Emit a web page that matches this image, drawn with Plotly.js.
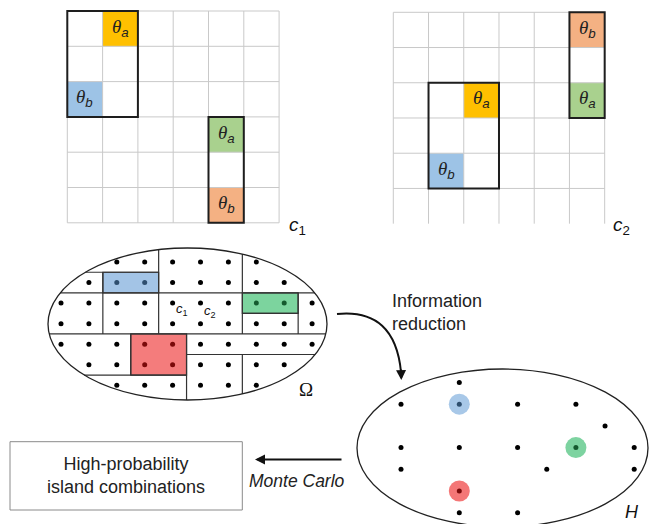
<!DOCTYPE html>
<html><head><meta charset="utf-8">
<script src="https://cdn.plot.ly/plotly-3.0.1.min.js"></script>
<style>html,body{margin:0;padding:0;background:#fff}</style>
</head><body><div id="chart" style="width:652px;height:524px"></div>
<script>
// ================= DATA =================
// Configuration c1 grid: highlighted cells (col,row) and their labels
const c1CellCols = [1, 0, 4, 4];
const c1CellRows = [0, 2, 3, 5];
const c1CellSubs = ['a', 'b', 'a', 'b'];
const c1CellKinds = ['orange', 'blue', 'green', 'salmon'];
// islands in c1 (col0,col1,row0,row1 in cell edges)
const c1IslandCol0 = [0, 4], c1IslandCol1 = [2, 5];
const c1IslandRow0 = [0, 3], c1IslandRow1 = [3, 6];

// Configuration c2 grid
const c2CellCols = [5, 5, 2, 1];
const c2CellRows = [0, 2, 2, 4];
const c2CellSubs = ['b', 'a', 'a', 'b'];
const c2CellKinds = ['salmon', 'green', 'orange', 'blue'];
const c2IslandCol0 = [5, 1], c2IslandCol1 = [6, 3];
const c2IslandRow0 = [0, 2], c2IslandRow1 = [3, 5];

// Omega: lattice of configurations (first/last column per row)
const omegaRowFirst = [2, 1, 0, 0, 0, 1, 2];
const omegaRowLast  = [7, 8, 9, 9, 9, 8, 7];
// partition lines (lattice units, null = ellipse edge)
const omegaHr  = [0.5, 1.5, 2.5, 3.5, 4.5, 5.5];
const omegaHc0 = [null, null, 6.5, null, 4.5, null];
const omegaHc1 = [3.5, null, 8.5, null, null, 4.5];
const omegaVc  = [1.5, 3.5, 6.5, 8.5, 2.5, 4.5, 6.5];
const omegaVr0 = [0.5, null, null, 1.5, 3.5, 3.5, 4.5];
const omegaVr1 = [3.5, 3.5, 3.5, 3.5, 5.5, null, null];
// highlighted islands in Omega
const omegaIslandKinds = ['blue', 'green', 'red'];
const omegaIslandC0 = [1.5, 6.5, 2.5], omegaIslandC1 = [3.5, 8.5, 4.5];
const omegaIslandR0 = [0.5, 1.5, 3.5], omegaIslandR1 = [1.5, 2.5, 5.5];
const omegaLabelText = ['<i>c</i><sub>1</sub>', '<i>c</i><sub>2</sub>'];
const omegaLabelC = [4.35, 5.35], omegaLabelR = [2.3, 2.4];

// H: reduced space points (half-column units, row units)
const hK = [2, 0, 2, 4, 6, 7, 0, 2, 4, 6, 8, 0, 5, 8, 2, 2, 4];
const hR = [0, 1, 1, 1, 1, 2, 3, 3, 3, 3, 3, 4, 4, 4, 5, 6, 6];
const hHaloK = [2, 6, 2], hHaloR = [1, 3, 5];
const hHaloKinds = ['blue', 'green', 'red'];

// ================= STYLE / LAYOUT =================
const fills = {orange:'#FFC000', blue:'#9DC3E6', green:'#A9D18E', salmon:'#F4B183'};
const omegaFills = {blue:'#A3C4E6', green:'#7CD49E', red:'#F47C7C'};
const omegaDots = {blue:'#2E4E6E', green:'#145A2E', red:'#7A0A0A'};
const haloFills = {blue:'#A8C8E8', green:'#7DD3A0', red:'#F47676'};

const shapes = [], annotations = [], traces = [];
const XR = 'x', YR = 'y';

function thetaText(sub){
  return '<span style="font-family:Liberation Serif"><i>θ</i></span><sub><i>' + sub + '</i></sub>';
}

function drawGrid(g, cols, rows, subs, kinds, ic0, ic1, ir0, ir1){
  const {x0, y0, cell, n, bottom} = g;
  cols.forEach((c, i) => {
    shapes.push({type:'rect', xref:XR, yref:YR, layer:'below',
      x0:x0 + c*cell, x1:x0 + (c+1)*cell, y0:y0 + rows[i]*cell, y1:y0 + (rows[i]+1)*cell,
      fillcolor:fills[kinds[i]], line:{width:0}});
    annotations.push({xref:XR, yref:YR, x:x0 + (c+0.5)*cell, y:y0 + (rows[i]+0.5)*cell - 1,
      text:thetaText(subs[i]), showarrow:false,
      font:{family:'Liberation Sans', size:19, color:'#222'}});
  });
  for (let i = 0; i <= n; i++) {
    shapes.push({type:'line', xref:XR, yref:YR, layer:'below',
      x0:x0 + i*cell, x1:x0 + i*cell, y0:y0, y1:y0 + n*cell, line:{color:'#c9c9c9', width:1}});
  }
  for (let j = 0; j <= (bottom ? n : n-1); j++) {
    shapes.push({type:'line', xref:XR, yref:YR, layer:'below',
      x0:x0, x1:x0 + n*cell, y0:y0 + j*cell, y1:y0 + j*cell, line:{color:'#c9c9c9', width:1}});
  }
  ic0.forEach((c, i) => {
    shapes.push({type:'rect', xref:XR, yref:YR, layer:'below',
      x0:x0 + c*cell, x1:x0 + ic1[i]*cell, y0:y0 + ir0[i]*cell, y1:y0 + ir1[i]*cell,
      line:{color:'#1e1e1e', width:2}, fillcolor:'rgba(0,0,0,0)'});
  });
}

drawGrid({x0:67.3, y0:11, cell:35.3, n:6, bottom:true},
  c1CellCols, c1CellRows, c1CellSubs, c1CellKinds, c1IslandCol0, c1IslandCol1, c1IslandRow0, c1IslandRow1);
drawGrid({x0:393.3, y0:12.3, cell:35.23, n:6, bottom:false},
  c2CellCols, c2CellRows, c2CellSubs, c2CellKinds, c2IslandCol0, c2IslandCol1, c2IslandRow0, c2IslandRow1);

annotations.push({xref:XR, yref:YR, x:297, y:226, text:'<i>c</i><sub>1</sub>', showarrow:false,
  font:{family:'Liberation Sans', size:19, color:'#111'}});
annotations.push({xref:XR, yref:YR, x:621, y:226, text:'<i>c</i><sub>2</sub>', showarrow:false,
  font:{family:'Liberation Sans', size:19, color:'#111'}});

// ----- Omega -----
const om = {cx:187.5, cy:324, rx:139.5, ry:76, ox:61, oy:262, dx:27.9, dy:20.55};
const OX = c => om.ox + om.dx*c, OY = r => om.oy + om.dy*r;
function edgeX(y, side){ const t = (y-om.cy)/om.ry; return om.cx + side*om.rx*Math.sqrt(Math.max(0, 1-t*t)); }
function edgeY(x, side){ const t = (x-om.cx)/om.rx; return om.cy + side*om.ry*Math.sqrt(Math.max(0, 1-t*t)); }

omegaIslandKinds.forEach((k, i) => {
  shapes.push({type:'rect', xref:XR, yref:YR, layer:'below',
    x0:OX(omegaIslandC0[i]), x1:OX(omegaIslandC1[i]), y0:OY(omegaIslandR0[i]), y1:OY(omegaIslandR1[i]),
    fillcolor:omegaFills[k], line:{color:'#333', width:1.2}});
});
omegaHr.forEach((r, i) => {
  const y = OY(r);
  const xa = omegaHc0[i] === null ? edgeX(y, -1) : OX(omegaHc0[i]);
  const xb = omegaHc1[i] === null ? edgeX(y, 1) : OX(omegaHc1[i]);
  shapes.push({type:'line', xref:XR, yref:YR, layer:'below', x0:xa, x1:xb, y0:y, y1:y, line:{color:'#333', width:1.2}});
});
omegaVc.forEach((c, i) => {
  const x = OX(c);
  const ya = omegaVr0[i] === null ? edgeY(x, -1) : OY(omegaVr0[i]);
  const yb = omegaVr1[i] === null ? edgeY(x, 1) : OY(omegaVr1[i]);
  shapes.push({type:'line', xref:XR, yref:YR, layer:'below', x0:x, x1:x, y0:ya, y1:yb, line:{color:'#333', width:1.2}});
});
shapes.push({type:'circle', xref:XR, yref:YR, layer:'below',
  x0:om.cx-om.rx, x1:om.cx+om.rx, y0:om.cy-om.ry, y1:om.cy+om.ry, line:{color:'#222', width:1.3}});

const odx = [], ody = [], odc = [];
omegaRowFirst.forEach((f, r) => {
  for (let c = f; c <= omegaRowLast[r]; c++) {
    let col = '#000';
    omegaIslandKinds.forEach((k, i) => {
      if (c > omegaIslandC0[i] && c < omegaIslandC1[i] && r > omegaIslandR0[i] && r < omegaIslandR1[i]) col = omegaDots[k];
    });
    odx.push(OX(c)); ody.push(OY(r)); odc.push(col);
  }
});
traces.push({type:'scatter', mode:'markers', x:odx, y:ody, marker:{size:5, color:odc}, hoverinfo:'skip'});

omegaLabelText.forEach((t, i) => {
  annotations.push({xref:XR, yref:YR, x:OX(omegaLabelC[i]), y:OY(omegaLabelR[i]), text:t,
    showarrow:false, font:{family:'Liberation Sans', size:13, color:'#111'}});
});
annotations.push({xref:XR, yref:YR, x:306, y:389, text:'Ω', showarrow:false,
  font:{family:'Liberation Serif', size:19, color:'#111'}});

// ----- H -----
const hh = {cx:502.5, cy:448, rx:145.5, ry:79, ox:401, oy:382.5, dk:29.15, dr:21.7};
const HX = k => hh.ox + hh.dk*k, HY = r => hh.oy + hh.dr*r;
shapes.push({type:'circle', xref:XR, yref:YR, layer:'below',
  x0:hh.cx-hh.rx, x1:hh.cx+hh.rx, y0:hh.cy-hh.ry, y1:hh.cy+hh.ry, line:{color:'#222', width:1.3}});
traces.push({type:'scatter', mode:'markers', x:hHaloK.map(HX), y:hHaloR.map(HY),
  marker:{size:21, color:hHaloKinds.map(k => haloFills[k])}, hoverinfo:'skip'});
traces.push({type:'scatter', mode:'markers', x:hK.map(HX), y:hR.map(HY),
  marker:{size:5, color:hK.map((k, i) => {
    let col = '#000';
    hHaloK.forEach((hk, j) => { if (hk === k && hHaloR[j] === hR[i]) col = omegaDots[hHaloKinds[j]]; });
    return col; })}, hoverinfo:'skip'});
annotations.push({xref:XR, yref:YR, x:632, y:512, text:'<i>H</i>', showarrow:false,
  font:{family:'Liberation Sans', size:18, color:'#111'}});

// ----- arrows and text -----
shapes.push({type:'path', xref:XR, yref:YR, path:'M 337 314 C 376 310, 397 330, 401 372',
  line:{color:'#111', width:2}});
annotations.push({xref:XR, yref:YR, axref:XR, ayref:YR, x:401.3, y:380, ax:401, ay:368, text:'',
  showarrow:true, arrowhead:2, arrowsize:1, arrowwidth:2, arrowcolor:'#111', standoff:0});
annotations.push({xref:XR, yref:YR, x:390, y:312.5, xanchor:'left', align:'left',
  text:'Information<br>reduction', showarrow:false, font:{family:'Liberation Sans', size:18, color:'#222'}});

annotations.push({xref:XR, yref:YR, axref:XR, ayref:YR, x:255, y:459.5, ax:343, ay:459.5, text:'',
  showarrow:true, arrowhead:2, arrowsize:1, arrowwidth:2, arrowcolor:'#111', standoff:0});
annotations.push({xref:XR, yref:YR, x:297, y:481, text:'<i>Monte Carlo</i>', showarrow:false,
  font:{family:'Liberation Sans', size:17.5, color:'#222'}});

shapes.push({type:'rect', xref:XR, yref:YR, layer:'below', x0:10, x1:242.3, y0:441.7, y1:510,
  line:{color:'#8a8a8a', width:1}});
annotations.push({xref:XR, yref:YR, x:126, y:475.5, text:'High-probability<br>island combinations',
  showarrow:false, font:{family:'Liberation Sans', size:18, color:'#222'}});

const layout = {
  width:652, height:524, margin:{l:0, r:0, t:0, b:0},
  paper_bgcolor:'#fff', plot_bgcolor:'#fff', showlegend:false,
  xaxis:{range:[0,652], visible:false, fixedrange:true},
  yaxis:{range:[524,0], visible:false, fixedrange:true},
  shapes:shapes, annotations:annotations
};
Plotly.newPlot('chart', traces, layout, {displayModeBar:false, staticPlot:true});
</script></body></html>
